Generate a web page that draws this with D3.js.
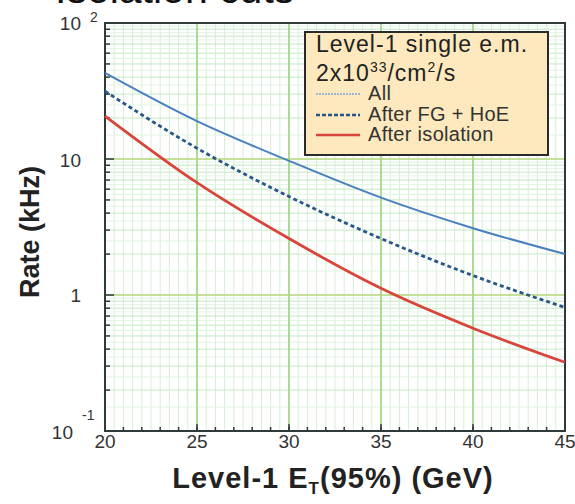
<!DOCTYPE html>
<html><head><meta charset="utf-8">
<script src="https://cdn.jsdelivr.net/npm/d3@7"></script>
<style>body{margin:0;background:#fff}svg{display:block}</style>
</head><body>
<svg id="c" width="575" height="504"></svg>
<script>
const energies = [20, 25, 30, 35, 40, 45];
const rateAll = [43, 19, 9.7, 5.2, 3.1, 2.0];
const rateFG = [31.5, 12, 5.3, 2.6, 1.39, 0.81];
const rateIso = [20.7, 6.7, 2.6, 1.12, 0.57, 0.32];
const xTicks = [20, 25, 30, 35, 40, 45];
const yTicks = [100, 10, 1, 0.1];
const seriesNames = ["All", "After FG + HoE", "After isolation"];

const svg = d3.select("#c");
const L = 105, R = 565, T = 23, B = 431;
const x = d3.scaleLinear().domain([20, 45]).range([L, R]);
const y = d3.scaleLog().domain([0.1, 100]).range([B, T]);
const font = "Liberation Sans, Arial, sans-serif";

// title (clipped at top, as in the reference)
svg.append("text").attr("x", 55).attr("y", 3).attr("font-family", font)
  .attr("font-size", 41).attr("fill", "#111").text("Isolation cuts");

// grid
const g = svg.append("g");
const xMinor = d3.range(20.5, 45, 0.5);
g.selectAll(".vx").data(xMinor).enter().append("line")
  .attr("x1", d => x(d)).attr("x2", d => x(d)).attr("y1", T).attr("y2", B)
  .attr("stroke", "#d4efd4").attr("stroke-width", 1);
const yMinor = [];
[0.1, 1, 10].forEach(dec => { for (let k = 1.5; k < 10; k += 0.5) yMinor.push(dec * k); });
g.selectAll(".hy").data(yMinor).enter().append("line")
  .attr("x1", L).attr("x2", R).attr("y1", d => y(d)).attr("y2", d => y(d))
  .attr("stroke", d => Number.isInteger(Math.round(d / Math.pow(10, Math.floor(Math.log10(d))) * 10) / 10) ? "#c3e8c3" : "#e2f5e2")
  .attr("stroke-width", 1);
g.selectAll(".vmaj").data([25, 30, 35, 40]).enter().append("line")
  .attr("x1", d => x(d)).attr("x2", d => x(d)).attr("y1", T).attr("y2", B)
  .attr("stroke", "#93d47a").attr("stroke-width", 1.5);
g.selectAll(".hmaj").data([10, 1]).enter().append("line")
  .attr("x1", L).attr("x2", R).attr("y1", d => y(d)).attr("y2", d => y(d))
  .attr("stroke", "#b2d67a").attr("stroke-width", 1.5);

// frame
svg.append("rect").attr("x", L).attr("y", T).attr("width", R - L).attr("height", B - T)
  .attr("fill", "none").attr("stroke", "#2f3a3a").attr("stroke-width", 2);

// left ticks
const yMinorTicks = [];
[0.1, 1, 10].forEach(dec => { for (let k = 2; k < 10; k++) yMinorTicks.push(dec * k); });
svg.selectAll(".ylt").data(yMinorTicks).enter().append("line")
  .attr("x1", L).attr("x2", L + 5).attr("y1", d => y(d)).attr("y2", d => y(d))
  .attr("stroke", "#2f3a3a").attr("stroke-width", 1.5);
svg.selectAll(".ymt").data([10, 1]).enter().append("line")
  .attr("x1", L).attr("x2", L + 9).attr("y1", d => y(d)).attr("y2", d => y(d))
  .attr("stroke", "#2f3a3a").attr("stroke-width", 1.5);
// bottom ticks
svg.selectAll(".xlt").data(d3.range(21, 45, 1)).enter().append("line")
  .attr("x1", d => x(d)).attr("x2", d => x(d)).attr("y1", B).attr("y2", B - 4)
  .attr("stroke", "#2f3a3a").attr("stroke-width", 1.5);
svg.selectAll(".xmt").data([25, 30, 35, 40]).enter().append("line")
  .attr("x1", d => x(d)).attr("x2", d => x(d)).attr("y1", B).attr("y2", B - 7)
  .attr("stroke", "#2f3a3a").attr("stroke-width", 1.5);

// x tick labels
svg.selectAll(".xl").data(xTicks).enter().append("text")
  .attr("x", d => x(d)).attr("y", 448).attr("text-anchor", "middle")
  .attr("font-family", font).attr("font-size", 19).attr("fill", "#333").text(d => d);

// y tick labels
const yLab = svg.append("g").attr("font-family", font).attr("font-size", 19).attr("fill", "#333");
function ylabel(v) {
  const e = Math.round(Math.log10(v));
  if (e === 2) {
    yLab.append("text").attr("x", 81).attr("y", y(v) + 7).attr("text-anchor", "end").text("10");
    yLab.append("text").attr("x", 90).attr("y", y(v) - 1).attr("font-size", 14).text("2");
  } else if (e === 1) {
    yLab.append("text").attr("x", 81).attr("y", y(v) + 8).attr("text-anchor", "end").text("10");
  } else if (e === 0) {
    yLab.append("text").attr("x", 81).attr("y", y(v) + 7).attr("text-anchor", "end").text("1");
  } else {
    yLab.append("text").attr("x", 73).attr("y", y(v) + 8).attr("text-anchor", "end").text("10");
    yLab.append("text").attr("x", 82).attr("y", y(v) - 11).attr("font-size", 14).text("-1");
  }
}
yTicks.forEach(ylabel);

// axis titles
const xt = svg.append("text").attr("x", 333).attr("y", 488).attr("text-anchor", "middle")
  .attr("font-family", font).attr("font-size", 29).attr("letter-spacing", 1)
  .attr("font-weight", "bold").attr("fill", "#222");
xt.append("tspan").text("Level-1 E");
xt.append("tspan").attr("font-size", 17).attr("dy", 6).text("T");
xt.append("tspan").attr("dy", -6).text("(95%) (GeV)");
svg.append("text").attr("transform", "translate(39,232) rotate(-90)").attr("text-anchor", "middle")
  .attr("font-family", font).attr("font-size", 27).attr("font-weight", "bold").attr("fill", "#222")
  .text("Rate (kHz)");

// curves
const line = d3.line().x(d => x(d[0])).y(d => y(d[1])).curve(d3.curveMonotoneX);
const series = [
  { vals: rateAll, color: "#4a7fc0", w: 2, dash: null },
  { vals: rateFG, color: "#28568a", w: 2.8, dash: "4,3" },
  { vals: rateIso, color: "#d8453a", w: 2.8, dash: null }
];
series.forEach(s => {
  svg.append("path").datum(energies.map((e, i) => [e, s.vals[i]]))
    .attr("d", line).attr("fill", "none").attr("stroke", s.color)
    .attr("stroke-width", s.w).attr("stroke-dasharray", s.dash);
});

// legend
const lg = svg.append("g");
lg.append("rect").attr("x", 305).attr("y", 32).attr("width", 243).attr("height", 123)
  .attr("fill", "#fde9bd").attr("stroke", "#2a2a2a").attr("stroke-width", 2);
lg.append("text").attr("x", 316).attr("y", 52).attr("font-family", font).attr("font-size", 23)
  .attr("letter-spacing", 1).attr("fill", "#222").text("Level-1 single e.m.");
const l2 = lg.append("text").attr("x", 316).attr("y", 81).attr("font-family", font).attr("font-size", 23)
  .attr("letter-spacing", 1).attr("fill", "#222");
l2.append("tspan").text("2x10");
l2.append("tspan").attr("font-size", 14).attr("dy", -9).text("33");
l2.append("tspan").attr("dy", 9).text("/cm");
l2.append("tspan").attr("font-size", 14).attr("dy", -9).text("2");
l2.append("tspan").attr("dy", 9).text("/s");
const legY = [94, 115, 135];
const legStyles = [
  { color: "#7fa6d8", w: 1.5, dash: "2,1" },
  { color: "#28568a", w: 2.5, dash: "4,2" },
  { color: "#d8453a", w: 2.5, dash: null }
];
seriesNames.forEach((n, i) => {
  lg.append("line").attr("x1", 316).attr("x2", 360).attr("y1", legY[i]).attr("y2", legY[i])
    .attr("stroke", legStyles[i].color).attr("stroke-width", legStyles[i].w).attr("stroke-dasharray", legStyles[i].dash);
  lg.append("text").attr("x", 368).attr("y", legY[i] + 6).attr("font-family", font).attr("font-size", 20)
    .attr("letter-spacing", 0.3).attr("fill", "#333").text(n);
});
</script>
</body></html>
